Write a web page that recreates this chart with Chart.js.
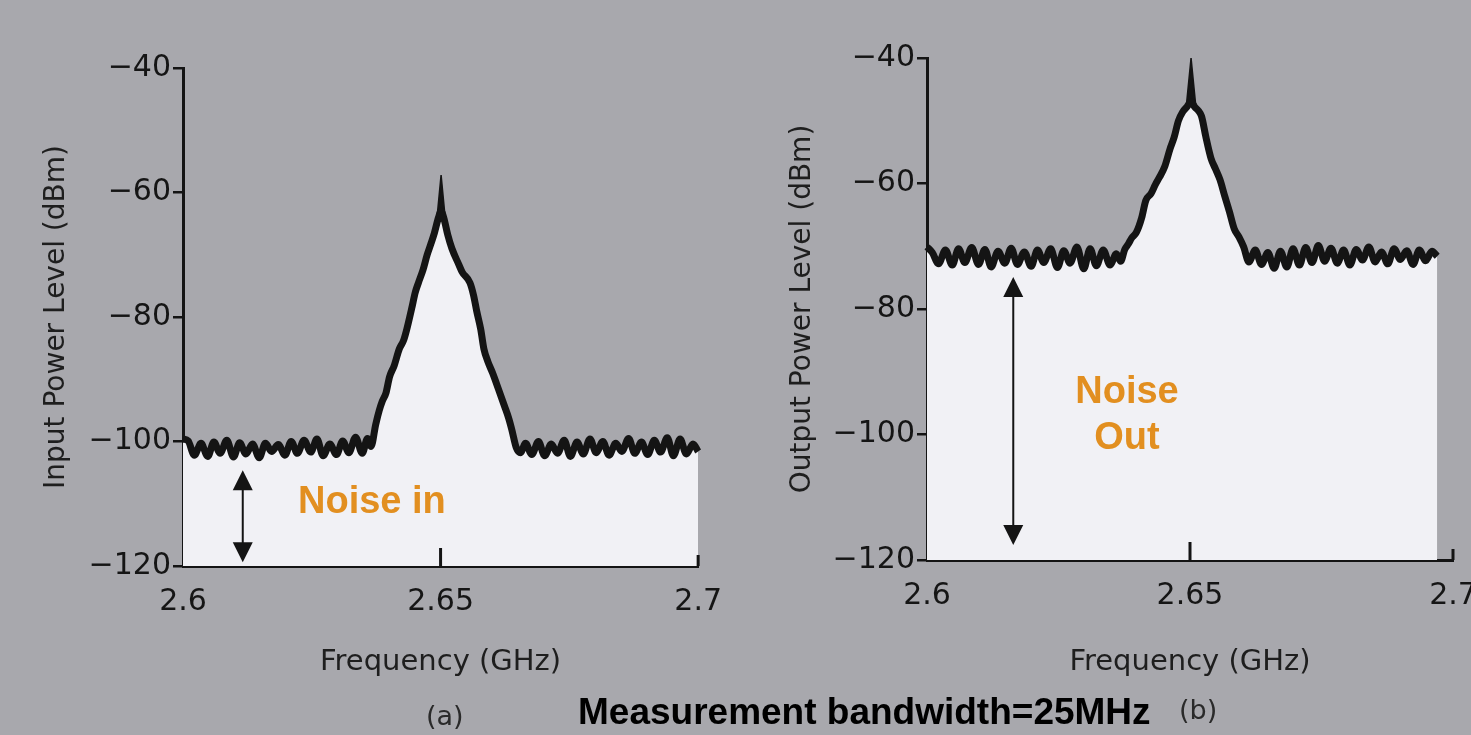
<!DOCTYPE html>
<html>
<head>
<title>Noise in / Noise out</title>
<script src="https://cdn.jsdelivr.net/npm/chart.js"></script>
<style>
  body { margin: 0; width: 1471px; height: 735px; overflow: hidden; background: #a8a8ad; position: relative; }
  canvas { position: absolute; top: 0; }
  #chartA { left: 0; }
  #chartB { left: 740px; }
  .note { position: absolute; font-family: "Liberation Sans", Arial, sans-serif; font-weight: bold; font-size: 38px; line-height: 1; color: #e28f20; }
  .cap { position: absolute; font-family: "DejaVu Sans", sans-serif; font-size: 27px; line-height: 1; color: #2a2a2a; }
  #bw { position: absolute; left: 578px; top: 693px; font-family: "Liberation Sans", Arial, sans-serif; font-weight: bold; font-size: 37px; line-height: 1; color: #000; }
</style>
</head>
<body>
<canvas id="chartA" width="740" height="735"></canvas>
<canvas id="chartB" width="780" height="735"></canvas>

<div class="note" style="left:298px; top:481px;">Noise in</div>
<div class="note" style="left:1027px; top:367px; width:200px; text-align:center; line-height:46px;">Noise<br>Out</div>
<div class="cap" style="left:426px; top:702px;">(a)</div>
<div class="cap" style="left:1179px; top:696px;">(b)</div>
<div id="bw">Measurement bandwidth=25MHz</div>

<script>
// ticks
const freqTicks = [2.6, 2.65, 2.7];
const levelMin = -120, levelMax = -40, levelStep = 20;

// (a) input spectrum, GHz / dBm
const freqA = [
  2.6000, 2.6010, 2.6022, 2.6035, 2.6048, 2.6060, 2.6072, 2.6085, 2.6098, 2.6110,
  2.6122, 2.6135, 2.6148, 2.6160, 2.6172, 2.6185, 2.6198, 2.6210, 2.6222, 2.6235,
  2.6248, 2.6260, 2.6272, 2.6285, 2.6298, 2.6310, 2.6322, 2.6335, 2.6348, 2.6358,
  2.6365, 2.6374, 2.6381, 2.6387, 2.6394, 2.6401, 2.6410, 2.6420, 2.6428, 2.6434,
  2.6444, 2.6451, 2.6457, 2.6466, 2.6474, 2.6481, 2.6488, 2.6496, 2.6501, 2.6506,
  2.6514, 2.6522, 2.6535, 2.6542, 2.6557, 2.6564, 2.6570, 2.6578, 2.6584, 2.6592,
  2.6601, 2.6612, 2.6624, 2.6632, 2.6638, 2.6647, 2.6655, 2.6665, 2.6677, 2.6690,
  2.6702, 2.6715, 2.6727, 2.6740, 2.6752, 2.6765, 2.6777, 2.6790, 2.6802, 2.6815,
  2.6827, 2.6840, 2.6852, 2.6865, 2.6877, 2.6890, 2.6902, 2.6915, 2.6927, 2.6940,
  2.6952, 2.6965, 2.6977, 2.6990, 2.7000
];
const levelA = [
  -99.6, -99.9, -102.2, -100.3, -102.4, -100.1, -101.9, -99.8, -102.5, -100.2,
  -102.0, -100.4, -102.6, -100.3, -101.6, -100.5, -102.2, -100.0, -101.9, -99.8,
  -101.7, -99.6, -102.3, -100.4, -102.1, -99.9, -101.8, -99.3, -101.9, -99.5,
  -100.8, -97.3, -95.0, -93.5, -92.2, -89.6, -87.8, -85.1, -83.8, -82.1,
  -78.6, -76.0, -74.5, -72.4, -70.0, -68.3, -66.5, -64.0, -63.0, -64.0,
  -66.8, -69.0, -71.5, -72.8, -74.5, -76.5, -79.0, -82.0, -85.1, -87.2,
  -89.0, -91.5, -94.3, -96.2, -98.0, -101.0, -101.8, -100.3, -102.1, -100.0,
  -102.3, -100.4, -101.9, -99.8, -102.4, -100.1, -102.0, -99.6, -101.8, -100.0,
  -102.2, -100.3, -101.6, -99.5, -101.9, -100.1, -102.1, -99.8, -101.7, -99.4,
  -102.3, -99.6, -102.0, -100.4, -101.6
];
// thin carrier line on top of the (a) peak
const spikeFreqA = [2.6492, 2.6501, 2.6510];
const spikeLevelA = [-65.0, -57.2, -65.0];

// (b) output spectrum, GHz / dBm
const freqB = [
  2.6000, 2.6010, 2.6022, 2.6035, 2.6048, 2.6060, 2.6072, 2.6085, 2.6098, 2.6110,
  2.6122, 2.6135, 2.6148, 2.6160, 2.6172, 2.6185, 2.6198, 2.6210, 2.6222, 2.6235,
  2.6248, 2.6260, 2.6272, 2.6285, 2.6298, 2.6310, 2.6322, 2.6335, 2.6348, 2.6360,
  2.6368, 2.6376, 2.6383, 2.6389, 2.6398, 2.6408, 2.6416, 2.6426, 2.6434, 2.6442,
  2.6452, 2.6462, 2.6470, 2.6478, 2.6486, 2.6494, 2.6502, 2.6509, 2.6516, 2.6522,
  2.6530, 2.6540, 2.6548, 2.6557, 2.6566, 2.6575, 2.6584, 2.6593, 2.6602, 2.6612,
  2.6624, 2.6636, 2.6648, 2.6660, 2.6672, 2.6684, 2.6696, 2.6708, 2.6720, 2.6732,
  2.6744, 2.6756, 2.6768, 2.6780, 2.6792, 2.6804, 2.6816, 2.6828, 2.6840, 2.6852,
  2.6864, 2.6876, 2.6888, 2.6900, 2.6912, 2.6924, 2.6936, 2.6948, 2.6960, 2.6970
];
const levelB = [
  -70.1, -71.0, -72.8, -70.6, -73.0, -70.4, -72.6, -70.2, -72.9, -70.5,
  -73.3, -70.8, -72.7, -70.3, -72.9, -70.9, -73.2, -70.6, -72.6, -70.4,
  -73.4, -70.7, -72.7, -70.1, -73.6, -70.4, -73.1, -70.6, -73.0, -71.2,
  -72.4, -70.5, -69.6, -68.7, -67.8, -65.5, -62.7, -61.6, -60.2, -59.0,
  -57.3, -54.5, -52.6, -50.0, -48.6, -47.8, -47.0, -47.8, -48.4, -49.3,
  -52.5, -56.0, -57.6, -59.4, -62.0, -64.5, -67.2, -68.5, -70.1, -72.5,
  -70.6, -72.9, -71.0, -73.5, -70.8, -73.3, -70.4, -73.0, -70.2, -72.6,
  -69.9, -72.4, -70.3, -72.7, -70.6, -73.0, -70.5, -72.2, -70.1, -72.5,
  -70.9, -72.8, -70.4, -72.1, -70.7, -72.9, -70.6, -72.3, -70.8, -71.6
];
const spikeFreqB = [2.6492, 2.6502, 2.6512];
const spikeLevelB = [-48.5, -40.0, -48.5];

// double arrows [freq, top dBm, bottom dBm]
const arrowA = [2.6116, -104.6, -119.4];
const arrowB = [2.6164, -74.9, -117.6];

const ink = '#141414';
const fillWhite = 'rgb(241,241,245)';
const face = "'DejaVu Sans', sans-serif";

// upward tick marks on the frequency axis + noise arrows
const extras = {
  id: 'extras',
  afterDatasetsDraw(chart, args, opts) {
    const { ctx, chartArea, scales: { x, y } } = chart;
    ctx.save();
    ctx.strokeStyle = ink;
    ctx.fillStyle = ink;
    ctx.lineWidth = 3;
    opts.upTicks.forEach(([v, len]) => {
      const px = x.getPixelForValue(v);
      ctx.beginPath();
      ctx.moveTo(px, chartArea.bottom);
      ctx.lineTo(px, chartArea.bottom - len);
      ctx.stroke();
    });
    const ax = x.getPixelForValue(opts.arrow[0]);
    const y1 = y.getPixelForValue(opts.arrow[1]);
    const y2 = y.getPixelForValue(opts.arrow[2]);
    ctx.lineWidth = 2;
    ctx.beginPath();
    ctx.moveTo(ax, y1 + 15);
    ctx.lineTo(ax, y2 - 15);
    ctx.stroke();
    [[y1, 1], [y2, -1]].forEach(([py, dir]) => {
      ctx.beginPath();
      ctx.moveTo(ax, py);
      ctx.lineTo(ax - 10, py + dir * 20);
      ctx.lineTo(ax + 10, py + dir * 20);
      ctx.closePath();
      ctx.fill();
    });
    ctx.restore();
  }
};

function toPoints(xs, ys) {
  return xs.map((f, i) => ({ x: f, y: ys[i] }));
}

function makeChart(id, freq, level, spikeF, spikeL, cfg) {
  return new Chart(document.getElementById(id), {
    type: 'line',
    data: {
      datasets: [{
        data: toPoints(freq, level),
        borderColor: ink,
        borderWidth: 7,
        backgroundColor: fillWhite,
        fill: 'start',
        pointRadius: 0,
        cubicInterpolationMode: 'monotone',
        clip: false
      }, {
        data: toPoints(spikeF, spikeL),
        borderColor: ink,
        borderWidth: 1.5,
        backgroundColor: ink,
        fill: 'shape',
        pointRadius: 0,
        tension: 0,
        clip: false
      }]
    },
    options: {
      responsive: false,
      animation: false,
      layout: { padding: { left: 0, top: cfg.top, right: cfg.right, bottom: 0 } },
      plugins: {
        legend: { display: false },
        tooltip: { enabled: false },
        extras: { upTicks: [[2.65, 18], [2.7, 11]], arrow: cfg.arrow }
      },
      scales: {
        x: {
          type: 'linear',
          min: 2.6,
          max: 2.7,
          afterBuildTicks: s => { s.ticks = freqTicks.map(v => ({ value: v })); },
          afterFit: s => { s.height = cfg.xHeight; },
          grid: { display: false, drawTicks: false },
          border: { display: true, color: ink, width: 3 },
          ticks: {
            padding: 18,
            color: '#151515',
            font: { family: face, size: 30 },
            maxRotation: 0,
            callback: v => String(v)
          },
          title: {
            display: true,
            text: 'Frequency (GHz)',
            color: '#1e1e1e',
            font: { family: face, size: 29 },
            padding: { top: 0, bottom: 55 }
          }
        },
        y: {
          min: levelMin,
          max: levelMax,
          afterFit: s => { s.width = cfg.yWidth; },
          grid: { display: true, drawOnChartArea: false, drawTicks: true, tickLength: 10, color: ink, lineWidth: 2.5 },
          border: { display: true, color: ink, width: 3 },
          ticks: {
            stepSize: levelStep,
            padding: 2,
            color: '#151515',
            font: { family: face, size: 30 },
            callback: v => String(v).replace('-', '\u2212')
          },
          title: {
            display: true,
            text: cfg.yTitle,
            color: '#1e1e1e',
            font: { family: face, size: 28 },
            padding: { top: cfg.titlePad, bottom: 0 }
          }
        }
      }
    },
    plugins: [extras]
  });
}

makeChart('chartA', freqA, levelA, spikeFreqA, spikeLevelA, {
  top: 68, right: 38, xHeight: 169, yWidth: 183, titlePad: 40,
  yTitle: 'Input Power Level (dBm)', arrow: arrowA
});
makeChart('chartB', freqB, levelB, spikeFreqB, spikeLevelB, {
  top: 58, right: 67, xHeight: 175, yWidth: 187, titlePad: 46,
  yTitle: 'Output Power Level (dBm)', arrow: arrowB
});
</script>
</body>
</html>
